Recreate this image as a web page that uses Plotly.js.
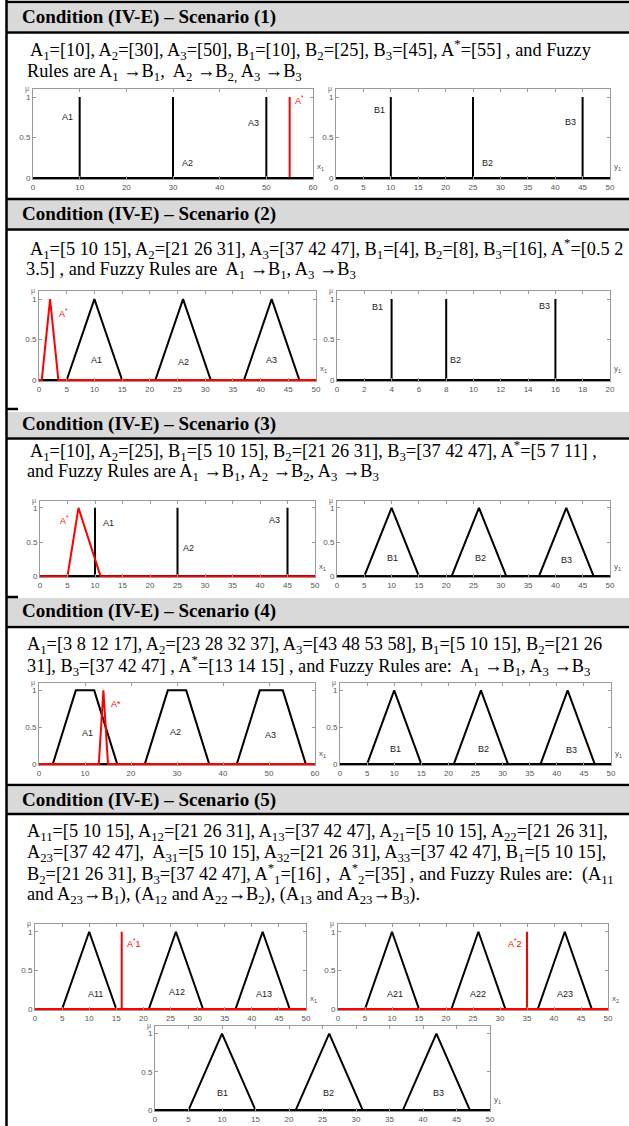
<!DOCTYPE html>
<html>
<head>
<meta charset="utf-8">
<script src="https://cdn.plot.ly/plotly-3.0.1.min.js"></script>
<style>
  html, body { margin: 0; padding: 0; background: #fff; }
  #fig { width: 629px; height: 1126px; }
</style>
</head>
<body>
<div id="fig"></div>
<script>
// ---------- membership function parameters ----------
// Scenario 1 (singletons)
const s1A1 = [10], s1A2 = [30], s1A3 = [50];
const s1B1 = [10], s1B2 = [25], s1B3 = [45];
const s1As = [55];
// Scenario 2
const s2A1 = [5, 10, 15], s2A2 = [21, 26, 31], s2A3 = [37, 42, 47];
const s2B1 = [4], s2B2 = [8], s2B3 = [16];
const s2As = [0.5, 2, 3.5];
// Scenario 3
const s3A1 = [10], s3A2 = [25], s3A3 = [45];
const s3B1 = [5, 10, 15], s3B2 = [21, 26, 31], s3B3 = [37, 42, 47];
const s3As = [5, 7, 11];
// Scenario 4
const s4A1 = [3, 8, 12, 17], s4A2 = [23, 28, 32, 37], s4A3 = [43, 48, 53, 58];
const s4B1 = [5, 10, 15], s4B2 = [21, 26, 31], s4B3 = [37, 42, 47];
const s4As = [13, 14, 15];
// Scenario 5
const s5A11 = [5, 10, 15], s5A12 = [21, 26, 31], s5A13 = [37, 42, 47];
const s5A21 = [5, 10, 15], s5A22 = [21, 26, 31], s5A23 = [37, 42, 47];
const s5A31 = [5, 10, 15], s5A32 = [21, 26, 31], s5A33 = [37, 42, 47];
const s5B1 = [5, 10, 15], s5B2 = [21, 26, 31], s5B3 = [37, 42, 47];
const s5As1 = [16], s5As2 = [35];

// axis extents and tick steps for the 11 panels
const xMax  = [60, 50, 50, 20, 50, 50, 60, 50, 50, 50, 50];
const xStep = [10, 5, 5, 2, 5, 5, 10, 5, 5, 5, 5];
const yTickVals = [0, 0.5, 1];
const yTickText = ['0', '0.5', '1'];

// ---------- page geometry (pixels) ----------
const W = 629, H = 1126;
const px = v => v / W;
const py = v => 1 - v / H;

// plot boxes: [left, right, top, bottom(y=0)]
const boxes = [
  [33, 313, 89, 178], [336, 610, 89, 178],
  [39, 316, 291, 380], [337, 610, 291, 380],
  [40, 315, 501, 576], [337, 610, 501, 576],
  [39, 315, 683, 764], [340, 611, 683, 764],
  [35, 306, 924, 1009], [338, 608, 924, 1009],
  [155, 490, 1026, 1110]
];
const axisNames = ['x<sub>1</sub>', 'y<sub>1</sub>', 'x<sub>1</sub>', 'y<sub>1</sub>', 'x<sub>1</sub>', 'y<sub>1</sub>',
                   'x<sub>1</sub>', 'y<sub>1</sub>', 'x<sub>1</sub>', 'x<sub>2</sub>', 'y<sub>1</sub>'];

// polyline of a membership function over [lo, hi]
function mf(p, lo, hi) {
  if (p.length === 1) return { x: [lo, p[0], p[0], p[0], hi], y: [0, 0, 1, 0, 0] };
  if (p.length === 3) return { x: [lo, p[0], p[1], p[2], hi], y: [0, 0, 1, 0, 0] };
  return { x: [lo, p[0], p[1], p[2], p[3], hi], y: [0, 0, 1, 1, 0, 0] };
}

const BLACK = '#000000', RED = '#ff0000';
// starFirst: the observed input is drawn beneath the rule sets
const panelSets = [
  { sets: [s1A1, s1A2, s1A3], star: [s1As], starFirst: true },
  { sets: [s1B1, s1B2, s1B3], star: [] },
  { sets: [s2A1, s2A2, s2A3], star: [s2As] },
  { sets: [s2B1, s2B2, s2B3], star: [] },
  { sets: [s3A1, s3A2, s3A3], star: [s3As] },
  { sets: [s3B1, s3B2, s3B3], star: [] },
  { sets: [s4A1, s4A2, s4A3], star: [s4As] },
  { sets: [s4B1, s4B2, s4B3], star: [] },
  { sets: [s5A11, s5A12, s5A13], star: [s5As1] },
  { sets: [s5A21, s5A22, s5A23], star: [s5As2] },
  { sets: [s5B1, s5B2, s5B3], star: [] }
];

const ax = k => (k === 1 ? '' : String(k));
const traces = [];
panelSets.forEach((ps, i) => {
  const k = i + 1;
  const add = (p, color) => {
    const m = mf(p, 0, xMax[i]);
    traces.push({
      type: 'scatter', mode: 'lines', x: m.x, y: m.y,
      xaxis: 'x' + ax(k), yaxis: 'y' + ax(k),
      line: { color: color, width: 2 }, hoverinfo: 'skip', showlegend: false
    });
  };
  if (ps.starFirst) ps.star.forEach(p => add(p, RED));
  ps.sets.forEach(p => add(p, BLACK));
  if (!ps.starFirst) ps.star.forEach(p => add(p, RED));
});

// ---------- layout ----------
const layout = {
  width: W, height: H,
  margin: { l: 0, r: 0, t: 0, b: 0 },
  paper_bgcolor: '#ffffff', plot_bgcolor: '#ffffff',
  showlegend: false,
  shapes: [], annotations: []
};

const frameColor = '#9a9a9a';
boxes.forEach((b, i) => {
  const k = i + 1;
  layout['xaxis' + ax(k)] = {
    domain: [px(b[0]), px(b[1])], range: [0, xMax[i]], anchor: 'y' + ax(k),
    tick0: 0, dtick: xStep[i], ticks: 'inside', ticklen: 3, tickcolor: frameColor,
    showline: true, linecolor: frameColor, linewidth: 1, mirror: 'ticks',
    showgrid: false, zeroline: false, fixedrange: true,
    tickfont: { family: 'Arial, Liberation Sans, sans-serif', size: 8, color: '#555' }
  };
  layout['yaxis' + ax(k)] = {
    domain: [py(b[3] + 1), py(b[2])], range: [-0.012, 1.1], anchor: 'x' + ax(k),
    tickvals: yTickVals, ticktext: yTickText, ticks: 'inside', ticklen: 3, tickcolor: frameColor,
    showline: true, linecolor: frameColor, linewidth: 1, mirror: 'ticks',
    showgrid: false, zeroline: false, fixedrange: true,
    tickfont: { family: 'Arial, Liberation Sans, sans-serif', size: 8, color: '#555' }
  };
  // μ above the y axis, variable name at the end of the x axis
  layout.annotations.push({
    xref: 'x' + ax(k) + ' domain', yref: 'y' + ax(k) + ' domain', x: -0.006, y: 1.0,
    xanchor: 'right', yanchor: 'middle', text: 'μ', showarrow: false,
    font: { family: 'Arial, sans-serif', size: 7, color: '#666' }
  });
  layout.annotations.push({
    xref: 'x' + ax(k) + ' domain', yref: 'y' + ax(k) + ' domain', x: 1.006, y: 0.13,
    xanchor: 'left', yanchor: 'middle', text: axisNames[i], showarrow: false,
    font: { family: 'Arial, sans-serif', size: 8, color: '#555' }
  });
});

// set labels inside the panels
const labelFont = { family: 'Arial, Liberation Sans, sans-serif', size: 9, color: '#222' };
const starFont = { family: 'Arial, Liberation Sans, sans-serif', size: 9, color: RED };
const setLabels = [
  [1, 7.3, 0.75, 'A1'], [1, 33, 0.19, 'A2'], [1, 47.3, 0.68, 'A3'], [1, 57.2, 0.96, 'A<sup>*</sup>', 1],
  [2, 8, 0.84, 'B1'], [2, 27.7, 0.19, 'B2'], [2, 42.7, 0.69, 'B3'],
  [3, 4.4, 0.83, 'A<sup>*</sup>', 1], [3, 10.3, 0.25, 'A1'], [3, 26, 0.22, 'A2'], [3, 42, 0.25, 'A3'],
  [4, 2.95, 0.9, 'B1'], [4, 8.7, 0.25, 'B2'], [4, 15.2, 0.92, 'B3'],
  [5, 4.4, 0.82, 'A<sup>*</sup>', 1], [5, 12.4, 0.78, 'A1'], [5, 27, 0.41, 'A2'], [5, 42.7, 0.82, 'A3'],
  [6, 10.2, 0.26, 'B1'], [6, 26.2, 0.26, 'B2'], [6, 42, 0.24, 'B3'],
  [7, 16.8, 0.82, 'A*', 1], [7, 10.6, 0.42, 'A1'], [7, 29.6, 0.43, 'A2'], [7, 50.4, 0.39, 'A3'],
  [8, 10.3, 0.21, 'B1'], [8, 26.5, 0.21, 'B2'], [8, 42.8, 0.19, 'B3'],
  [9, 18.2, 0.86, 'A<sup>*</sup>1', 1], [9, 11.1, 0.2, 'A11'], [9, 26.2, 0.22, 'A12'], [9, 42.2, 0.2, 'A13'],
  [10, 32.6, 0.86, 'A<sup>*</sup>2', 1], [10, 10.5, 0.2, 'A21'], [10, 26, 0.2, 'A22'], [10, 42, 0.2, 'A23'],
  [11, 10, 0.22, 'B1'], [11, 25.9, 0.22, 'B2'], [11, 42.3, 0.22, 'B3']
];
setLabels.forEach(l => {
  layout.annotations.push({
    xref: 'x' + ax(l[0]), yref: 'y' + ax(l[0]), x: l[1], y: l[2], text: l[3],
    showarrow: false, xanchor: 'center', yanchor: 'middle', font: l[4] ? starFont : labelFont
  });
});

// ---------- table frame ----------
const lineShape = (x0, y0, x1, y1, w) => ({
  type: 'line', xref: 'paper', yref: 'paper', x0: px(x0), x1: px(x1), y0: py(y0), y1: py(y1),
  line: { color: '#000', width: w }, layer: 'above'
});
const headRows = [[4, 31], [200, 228], [412, 437], [598, 625], [787, 813]];
headRows.forEach(r => layout.shapes.push({
  type: 'rect', xref: 'paper', yref: 'paper', x0: px(7), x1: 1, y0: py(r[1]), y1: py(r[0]),
  fillcolor: '#d9d9d9', line: { width: 0 }, layer: 'below'
}));
[2, 32.5, 199, 229.5, 438.5, 627, 785, 814].forEach(y => layout.shapes.push(lineShape(6, y, W, y, 2.5)));
[409, 597].forEach(y => layout.shapes.push(lineShape(6, y, 18, y, 2.5)));
layout.shapes.push(lineShape(6.5, 0, 6.5, H, 2.5));

// ---------- texts ----------
const f = a => '[' + a.join(' ') + ']';
const S = n => '<sub>' + n + '</sub>';
const star = '<sup>*</sup>';
const heads = [17, 214, 424, 611, 800];
heads.forEach((y, i) => layout.annotations.push({
  xref: 'paper', yref: 'paper', x: px(20), y: py(y), xanchor: 'left', yanchor: 'middle',
  text: '<b>Condition (IV-E) – Scenario (' + (i + 1) + ')</b>', showarrow: false,
  font: { family: 'Liberation Serif, serif', size: 19, color: '#000' }
}));

const bodyLines = [
  [28, 50, `A${S(1)}=${f(s1A1)}, A${S(2)}=${f(s1A2)}, A${S(3)}=${f(s1A3)}, B${S(1)}=${f(s1B1)}, B${S(2)}=${f(s1B2)}, B${S(3)}=${f(s1B3)}, A${star}=${f(s1As)} , and Fuzzy`],
  [25, 72, `Rules are A${S(1)} →B${S(1)},  A${S(2)} →B${S('2,')} A${S(3)} →B${S(3)}`],
  [28, 249, `A${S(1)}=${f(s2A1)}, A${S(2)}=${f(s2A2)}, A${S(3)}=${f(s2A3)}, B${S(1)}=${f(s2B1)}, B${S(2)}=${f(s2B2)}, B${S(3)}=${f(s2B3)}, A${star}=[${s2As.slice(0, 2).join(' ')}`],
  [24, 270, `${s2As[2]}] , and Fuzzy Rules are  A${S(1)} →B${S(1)}, A${S(3)} →B${S(3)}`],
  [28, 451, `A${S(1)}=${f(s3A1)}, A${S(2)}=${f(s3A2)}, B${S(1)}=${f(s3B1)}, B${S(2)}=${f(s3B2)}, B${S(3)}=${f(s3B3)}, A${star}=${f(s3As)} ,`],
  [25, 472, `and Fuzzy Rules are A${S(1)} →B${S(1)}, A${S(2)} →B${S(2)}, A${S(3)} →B${S(3)}`],
  [25, 645, `A${S(1)}=${f(s4A1)}, A${S(2)}=${f(s4A2)}, A${S(3)}=${f(s4A3)}, B${S(1)}=${f(s4B1)}, B${S(2)}=[${s4B2.slice(0, 2).join(' ')}`],
  [25, 666, `${s4B2[2]}], B${S(3)}=${f(s4B3)} , A${star}=${f(s4As)} , and Fuzzy Rules are:  A${S(1)} →B${S(1)}, A${S(3)} →B${S(3)}`],
  [25, 832, `A${S(11)}=${f(s5A11)}, A${S(12)}=${f(s5A12)}, A${S(13)}=${f(s5A13)}, A${S(21)}=${f(s5A21)}, A${S(22)}=${f(s5A22)},`],
  [25, 853, `A${S(23)}=${f(s5A23)},  A${S(31)}=${f(s5A31)}, A${S(32)}=${f(s5A32)}, A${S(33)}=${f(s5A33)}, B${S(1)}=${f(s5B1)},`],
  [25, 874, `B${S(2)}=${f(s5B2)}, B${S(3)}=${f(s5B3)}, A${star}${S(1)}=${f(s5As1)} ,  A${star}${S(2)}=${f(s5As2)} , and Fuzzy Rules are:  (A${S(11)}`],
  [25, 895, `and A${S(23)}→B${S(1)}), (A${S(12)} and A${S(22)}→B${S(2)}), (A${S(13)} and A${S(23)}→B${S(3)}).`]
];
bodyLines.forEach(l => layout.annotations.push({
  xref: 'paper', yref: 'paper', x: px(l[0]), y: py(l[1]), xanchor: 'left', yanchor: 'middle',
  text: l[2], showarrow: false,
  font: { family: 'Liberation Serif, serif', size: 18.3, color: '#000' }
}));

Plotly.newPlot('fig', traces, layout, { staticPlot: true, displayModeBar: false });
</script>
</body>
</html>
